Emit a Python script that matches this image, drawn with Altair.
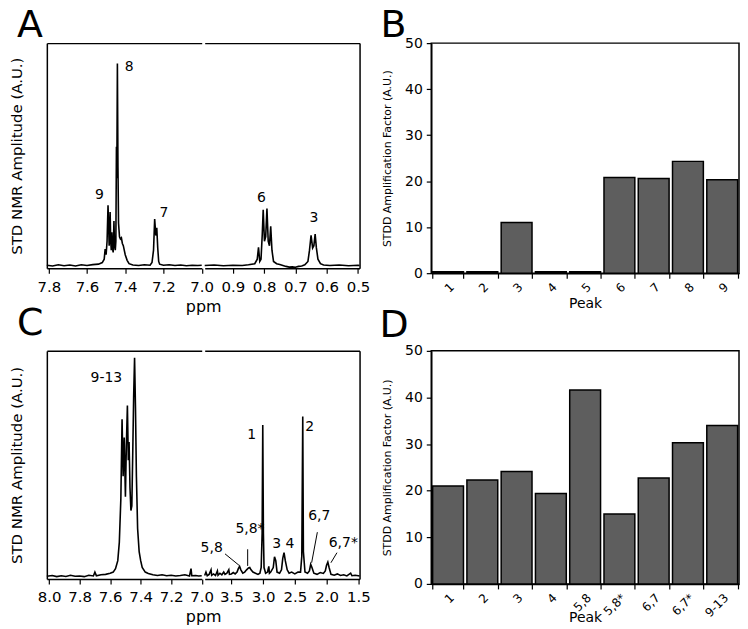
import altair as alt
import pandas as pd

FONT = "DejaVu Sans"

# ---------------- Panel A: STD NMR spectrum (two ppm windows) ----------------
a_left = [(7.81, 1.3), (7.78, 1.0), (7.75, 1.5), (7.72, 1.1), (7.69, 1.4), (7.66, 1.0),
          (7.63, 1.5), (7.60, 1.2), (7.57, 1.6), (7.54, 1.8), (7.52, 2.5), (7.51, 4.0),
          (7.505, 8.5), (7.500, 6.0), (7.495, 12), (7.490, 28), (7.487, 20), (7.484, 10),
          (7.482, 14), (7.479, 25), (7.476, 12), (7.473, 8), (7.470, 16), (7.467, 9),
          (7.463, 7), (7.459, 21), (7.456, 10), (7.452, 8), (7.449, 12), (7.446, 54),
          (7.444, 40), (7.441, 91), (7.438, 45), (7.435, 20), (7.430, 14), (7.425, 13),
          (7.420, 13.5), (7.415, 11), (7.410, 10), (7.400, 6), (7.390, 3.5), (7.380, 2),
          (7.360, 1.4), (7.330, 1.2), (7.300, 1.5), (7.270, 1.3), (7.260, 2.5), (7.252, 8),
          (7.246, 21.8), (7.240, 14.5), (7.235, 18), (7.230, 9), (7.225, 3), (7.220, 1.8),
          (7.200, 1.3), (7.170, 1.5), (7.140, 1.2), (7.110, 1.4), (7.080, 1.1), (7.050, 1.3),
          (7.020, 1.2), (7.000, 1.3)]
a_right = [(0.99, 1.2), (0.96, 1.4), (0.93, 1.1), (0.90, 1.3), (0.87, 1.2), (0.85, 1.5),
           (0.83, 2.0), (0.822, 4), (0.818, 9.3), (0.814, 3), (0.810, 4), (0.806, 15),
           (0.803, 26), (0.799, 12), (0.795, 14), (0.791, 26.5), (0.787, 12), (0.783, 10),
           (0.779, 18.6), (0.775, 8), (0.770, 3), (0.76, 2), (0.75, 1.6), (0.74, 1.2),
           (0.73, 0.8), (0.72, 0.5), (0.71, 0.6), (0.70, 0.4), (0.69, 0.8), (0.68, 1.0),
           (0.67, 1.5), (0.66, 3), (0.655, 8), (0.650, 14.6), (0.645, 9), (0.641, 10),
           (0.637, 15.2), (0.633, 9), (0.628, 4), (0.62, 2), (0.61, 1.4), (0.59, 1.2),
           (0.56, 1.4), (0.53, 1.1), (0.50, 1.3), (0.495, 1.2)]
a_domain = [7.81, 7.0, 0.99, 0.495]
a_ticks = [7.8, 7.6, 7.4, 7.2, 7.0, 0.9, 0.8, 0.7, 0.6, 0.5]
a_label_text = ["9", "8", "7", "6", "3"]
a_label_ppm = [7.535, 7.379, 7.197, 0.809, 0.641]
a_label_amp = [32.7, 89.6, 24.7, 31.3, 22.5]

# ---------------- Panel C: STD NMR spectrum (two ppm windows) ----------------
c_left = [(8.015, 1.2), (7.98, 1.5), (7.95, 1.0), (7.92, 1.4), (7.89, 1.1), (7.86, 1.6),
          (7.83, 1.2), (7.80, 1.3), (7.77, 1.0), (7.74, 1.6), (7.71, 1.3), (7.70, 3.0),
          (7.69, 1.4), (7.66, 1.8), (7.63, 2.0), (7.60, 2.5), (7.58, 3.0), (7.565, 4.5),
          (7.55, 8), (7.54, 16), (7.53, 35), (7.522, 70), (7.515, 45), (7.508, 62),
          (7.500, 36), (7.494, 58), (7.487, 76), (7.481, 52), (7.476, 60), (7.470, 40),
          (7.464, 30), (7.458, 32), (7.452, 55), (7.446, 80), (7.440, 97), (7.434, 75),
          (7.428, 45), (7.420, 22), (7.410, 12), (7.400, 8), (7.39, 5), (7.37, 3),
          (7.35, 2.4), (7.32, 1.8), (7.29, 1.5), (7.26, 1.8), (7.23, 1.4), (7.20, 1.6),
          (7.17, 1.3), (7.14, 1.5), (7.11, 1.8), (7.08, 1.3), (7.07, 4.5), (7.065, 1.4),
          (7.04, 1.5), (7.02, 1.3), (7.0, 1.4)]
c_right = [(3.92, 1.5), (3.90, 3.0), (3.88, 1.4), (3.85, 2.0), (3.82, 4.0), (3.81, 1.6),
           (3.78, 2.2), (3.75, 1.5), (3.72, 3.5), (3.71, 1.6), (3.68, 2.5), (3.65, 1.8),
           (3.62, 3.0), (3.60, 2.0), (3.57, 2.5), (3.54, 4.0), (3.53, 2.0), (3.50, 2.2),
           (3.47, 2.8), (3.44, 2.2), (3.41, 3.0), (3.39, 4.5), (3.37, 5.5), (3.35, 4.0),
           (3.32, 2.5), (3.29, 3.0), (3.26, 4.0), (3.23, 4.8), (3.21, 5.0), (3.19, 4.0),
           (3.16, 3.0), (3.12, 2.5), (3.08, 2.0), (3.05, 2.5), (3.03, 5.0), (3.015, 20),
           (3.005, 67.5), (2.995, 20), (2.985, 5), (2.96, 2.5), (2.93, 3.0), (2.91, 5.5),
           (2.90, 2.5), (2.88, 3.0), (2.84, 5.0), (2.82, 9.7), (2.80, 8.0), (2.78, 3.0),
           (2.74, 2.5), (2.71, 4.0), (2.69, 9.0), (2.67, 11.5), (2.65, 8.0), (2.62, 4.0),
           (2.59, 2.5), (2.55, 3.0), (2.50, 2.2), (2.45, 3.0), (2.41, 3.0), (2.39, 10),
           (2.375, 71.2), (2.365, 12), (2.34, 3.0), (2.30, 2.5), (2.27, 3.5), (2.25, 6.4),
           (2.23, 5.0), (2.20, 2.5), (2.15, 2.0), (2.10, 2.8), (2.05, 2.4), (2.02, 3.5),
           (2.00, 6.0), (1.98, 7.4), (1.96, 5.0), (1.93, 2.0), (1.88, 1.6), (1.83, 2.2),
           (1.78, 1.5), (1.73, 1.8), (1.68, 1.3), (1.62, 2.5), (1.60, 1.4), (1.55, 1.6),
           (1.50, 1.4), (1.48, 1.3)]
c_domain = [8.015, 7.0, 3.92, 1.48]
c_ticks = [8.0, 7.8, 7.6, 7.4, 7.2, 7.0, 3.5, 3.0, 2.5, 2.0, 1.5]
c_label_text = ["9-13", "1", "2", "6,7", "6,7*", "3", "4", "5,8*", "5,8"]
c_label_ppm = [7.625, 3.18, 2.266, 2.114, 1.736, 2.786, 2.577, 3.207, 3.81]
c_label_amp = [87.9, 63.2, 66.8, 27.5, 15.9, 15.4, 15.4, 21.7, 13.7]
c_lead_ppm1 = [3.60, 3.243, 2.145, 1.836]
c_lead_amp1 = [11.0, 13.0, 20.5, 11.5]
c_lead_ppm2 = [3.38, 3.243, 2.235, 1.931]
c_lead_amp2 = [6.0, 5.7, 7.1, 7.1]

# ---------------- Panels B and D: STDD amplification factors ----------------
b_peaks = ["1", "2", "3", "4", "5", "6", "7", "8", "9"]
b_values = [0.3, 0.3, 11.0, 0.3, 0.3, 20.8, 20.6, 24.3, 20.3]
d_peaks = ["1", "2", "3", "4", "5,8", "5,8*", "6,7", "6,7*", "9-13"]
d_values = [21.0, 22.3, 24.1, 19.4, 41.6, 15.0, 22.7, 30.3, 34.0]
bar_ticks = [0, 10, 20, 30, 40, 50]


def letter(txt, dx, offset):
    return alt.TitleParams(text=txt, anchor="start", frame="group", fontSize=38,
                           fontWeight="normal", dx=dx, offset=offset,
                           baseline="alphabetic", color="black")


def spectrum(left, right, domain, ticks, width, height, lab_txt, lab_ppm, lab_amp,
             title, leaders=None):
    rows = [{"ppm": p, "amp": a, "seg": "L"} for p, a in left] + \
           [{"ppm": p, "amp": a, "seg": "R"} for p, a in right]
    df = pd.DataFrame(rows)
    half = (width - 3) / 2.0
    xs = alt.Scale(domain=domain, range=[0, half, half + 3, width], nice=False, zero=False)
    ys = alt.Scale(domain=[0, 100], nice=False, zero=False)
    brk = [half, 3, width]
    line = alt.Chart(df).mark_line(color="black", strokeWidth=1.6).encode(
        x=alt.X("ppm:Q", scale=xs,
                axis=alt.Axis(values=ticks, format=".1f", title="ppm", orient="bottom",
                              labelFlush=False, labelOverlap=False, tickSize=5,
                              labelFontSize=15, titleFontSize=16, labelPadding=6,
                              titlePadding=4, domainDash=brk)),
        y=alt.Y("amp:Q", scale=ys,
                axis=alt.Axis(orient="left", title="STD NMR Amplitude (A.U.)", labels=False,
                              ticks=False, titleFontSize=15, titlePadding=22)),
        detail="seg:N",
    )
    tdf = pd.DataFrame({"txt": lab_txt, "ppm": lab_ppm, "amp": lab_amp})
    text = alt.Chart(tdf).mark_text(fontSize=14, color="black").encode(
        x=alt.X("ppm:Q", scale=xs,
                axis=alt.Axis(orient="top", labels=False, ticks=False, title=None,
                              domainDash=brk)),
        y=alt.Y("amp:Q", scale=ys,
                axis=alt.Axis(orient="right", labels=False, ticks=False, title=None)),
        text="txt:N",
    )
    layers = [line, text]
    if leaders is not None:
        ldf = pd.DataFrame({"p1": leaders[0], "a1": leaders[1], "p2": leaders[2], "a2": leaders[3]})
        rule = alt.Chart(ldf).mark_rule(color="black", strokeWidth=1).encode(
            x=alt.X("p1:Q", scale=xs, axis=None), x2="p2:Q",
            y=alt.Y("a1:Q", scale=ys, axis=None), y2="a2:Q",
        )
        layers.append(rule)
    return alt.layer(*layers).resolve_axis(x="independent", y="independent").properties(
        width=width, height=height, title=title)


def bars(peaks, values, height, title, title_y):
    df = pd.DataFrame({"peak": peaks, "val": values})
    return alt.Chart(df).mark_bar(fill="#5e5e5e", stroke="black", strokeWidth=1.5).encode(
        x=alt.X("peak:N", sort=peaks, scale=alt.Scale(paddingInner=0.1, paddingOuter=0.04),
                axis=alt.Axis(title="Peak", labelAngle=-45, tickBand="extent", tickSize=5,
                              labelFontSize=12, titleFontSize=14, titleY=title_y,
                              labelPadding=3)),
        y=alt.Y("val:Q", scale=alt.Scale(domain=[0, 50], nice=False),
                axis=alt.Axis(values=bar_ticks, title="STDD Amplification Factor (A.U.)",
                              tickSize=5, labelFontSize=14, titleFontSize=11,
                              titlePadding=12, labelPadding=4)),
    ).properties(width=309, height=height, title=title,
                 view=alt.ViewBackground(stroke="black", strokeWidth=1.5))


panel_a = spectrum(a_left, a_right, a_domain, a_ticks, 314, 226,
                   a_label_text, a_label_ppm, a_label_amp, letter("A", -30, -32))
panel_b = bars(b_peaks, b_values, 231, letter("B", -51, -38.5), 23)
panel_c = spectrum(c_left, c_right, c_domain, c_ticks, 314, 229,
                   c_label_text, c_label_ppm, c_label_amp, letter("C", -30, -22.5),
                   leaders=(c_lead_ppm1, c_lead_amp1, c_lead_ppm2, c_lead_amp2))
panel_d = bars(d_peaks, d_values, 234, letter("D", -52, -31), 27)

chart = alt.concat(panel_a, panel_b, panel_c, panel_d, columns=2,
                   spacing={"row": 78, "column": 72}, bounds="flush", align="each").properties(
    padding={"top": -4, "left": 2, "right": 0, "bottom": 0}
).configure(font=FONT).configure_view(stroke=None).configure_axis(
    domainColor="black", tickColor="black", labelColor="black", titleColor="black",
    titleFontWeight="normal", grid=False, domainWidth=1.5, tickWidth=1.2,
    labelFont=FONT, titleFont=FONT
)

chart.save("out.html", embed_options={"renderer": "svg", "actions": False})
